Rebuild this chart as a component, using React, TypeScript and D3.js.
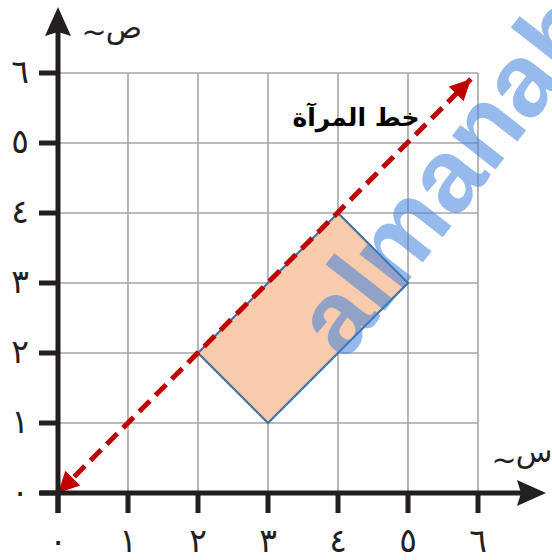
import React from 'react';
import * as d3 from 'd3';

const ticks = [0, 1, 2, 3, 4, 5, 6];
const tickLabels = ['٠', '١', '٢', '٣', '٤', '٥', '٦'];
const shape: [number, number][] = [[2, 2], [4, 4], [5, 3], [3, 1]];
const mirrorLine: [number, number][] = [[0, 0], [6, 6]];
const mirrorLabel = 'خط المرآة';
const xName = 'س';
const yName = 'ص';

const W = 552;
const H = 560;

export default function App() {
  const x = d3.scaleLinear().domain([0, 6]).range([58, 478]);
  const y = d3.scaleLinear().domain([0, 6]).range([493, 73]);
  const ink = '#231f20';
  const red = '#c00000';
  const poly = d3.line<[number, number]>().x(d => x(d[0])).y(d => y(d[1])).curve(d3.curveLinearClosed);

  // mirror line endpoints, tips a bit inside at the top
  const [p0, p1] = mirrorLine;
  const ax0 = x(p0[0]), ay0 = y(p0[1]);
  const ax1 = x(p1[0]) - 7, ay1 = y(p1[1]) + 6;

  return (
    <svg width={W} height={H} style={{ position: 'absolute', left: 0, top: 0 }}
      fontFamily="DejaVu Sans, sans-serif">
      <defs>
        <marker id="redhead" viewBox="0 0 10 10" refX="10" refY="5" markerWidth="4.6" markerHeight="4.2"
          markerUnits="strokeWidth" orient="auto-start-reverse">
          <path d="M0,0 L10,5 L0,10 Z" fill={red} />
        </marker>
      </defs>
      <rect width={W} height={H} fill="#fff" />

      {/* grid */}
      <g stroke="#a6a6a6" strokeWidth={1.6}>
        {ticks.slice(1).map(t => (
          <line key={'gx' + t} x1={x(t)} x2={x(t)} y1={y(0)} y2={y(6)} />
        ))}
        {ticks.slice(1).map(t => (
          <line key={'gy' + t} x1={x(0)} x2={x(6)} y1={y(t)} y2={y(t)} />
        ))}
      </g>

      {/* rectangle */}
      <path d={poly(shape) as string} fill="#f7cbac" stroke="#41719c" strokeWidth={2.2} strokeLinejoin="miter" />

      {/* mirror line */}
      <line x1={ax0} y1={ay0} x2={ax1} y2={ay1} stroke={red} strokeWidth={5}
        strokeDasharray="15 8" markerStart="url(#redhead)" markerEnd="url(#redhead)" />

      {/* axes */}
      <g stroke={ink} strokeWidth={5}>
        <line x1={x(0) - 18} x2={528} y1={y(0)} y2={y(0)} />
        <line x1={x(0)} x2={x(0)} y1={y(0) + 20} y2={22} />
        {ticks.map(t => (
          <line key={'tx' + t} x1={x(t)} x2={x(t)} y1={y(0)} y2={y(0) + 20} />
        ))}
        {ticks.map(t => (
          <line key={'ty' + t} x1={x(0) - 19} x2={x(0)} y1={y(t)} y2={y(t)} />
        ))}
      </g>
      <path d={`M${546},${y(0)} L${517},${y(0) - 13} L${521},${y(0)} L${517},${y(0) + 13} Z`} fill={ink} />
      <path d={`M${x(0)},${7} L${x(0) - 13},${36} L${x(0)},${32} L${x(0) + 13},${36} Z`} fill={ink} />

      {/* tick labels */}
      <g fill={ink} fontSize={33} textAnchor="middle">
        {ticks.map((t, i) => (
          <text key={'lx' + t} x={x(t)} y={552}>{tickLabels[i]}</text>
        ))}
        {ticks.map((t, i) => (
          <text key={'ly' + t} x={20} y={y(t) + 10}>{tickLabels[i]}</text>
        ))}
      </g>

      {/* axis names */}
      <g fill={ink} fontSize={30}>
        <text x={124} y={38} textAnchor="middle">{yName}</text>
        <text x={94} y={42} textAnchor="middle">~</text>
        <text x={534} y={462} textAnchor="middle">{xName}</text>
        <text x={504} y={470} textAnchor="middle">~</text>
      </g>

      <text x={356} y={126} fill="#000" fontSize={25} fontWeight="bold" textAnchor="middle"
        direction="rtl">{mirrorLabel}</text>

      {/* watermark */}
      <text transform="translate(345,362) rotate(-52)" fill="#3f82dc" fillOpacity={0.55}
        fontFamily="Liberation Sans, Arial, sans-serif" fontWeight="bold" fontSize={104}>almanahj</text>
    </svg>
  );
}
